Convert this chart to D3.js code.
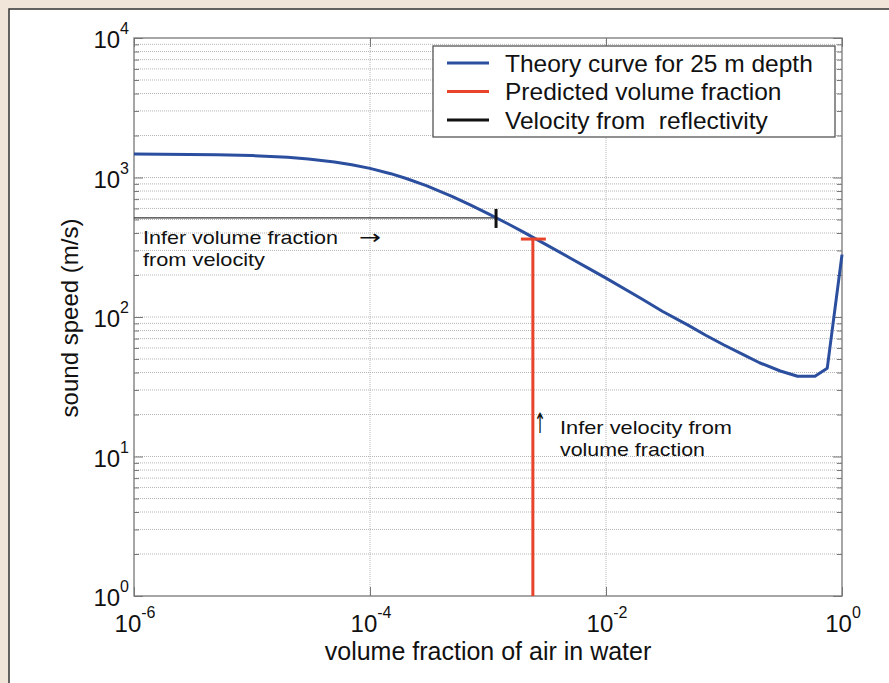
<!DOCTYPE html>
<html>
<head>
<meta charset="utf-8">
<script src="https://cdn.jsdelivr.net/npm/d3@7"></script>
<style>
  body { margin: 0; background: #f1e4d9; }
  svg { display: block; }
  .tick-label { font-family: "Liberation Sans", Arial, sans-serif; font-size: 24px; fill: #111; }
  .axis-label { font-family: "Liberation Sans", Arial, sans-serif; fill: #111; }
  .note { font-family: "Liberation Sans", Arial, sans-serif; font-size: 19px; fill: #111; }
  .arrow { font-family: "DejaVu Sans", sans-serif; fill: #111; }
  .legend text { font-family: "Liberation Sans", Arial, sans-serif; font-size: 24.5px; fill: #111; white-space: pre; }
</style>
</head>
<body>
<script>
// waarden
const volumeFraction = [1e-6, 5e-6, 1e-5, 2e-5, 3e-5, 5e-5, 7e-5, 1e-4, 1.5e-4, 2e-4, 3e-4, 5e-4, 7e-4, 1e-3, 1.5e-3, 2e-3, 3e-3, 5e-3, 7e-3,
	1e-2, 2e-2, 3e-2, 5e-2, 7e-2, 0.1, 0.15, 0.2, 0.3, 0.42, 0.59, 0.75, 1]
const soundSpeed = [1475, 1457, 1436, 1395, 1358, 1291, 1234, 1163, 1065, 988, 874, 730, 640, 551, 462, 406, 336, 264, 225,
	190, 135, 110, 87, 74, 63, 53, 47, 41, 37.6, 37.6, 43, 280]

const reflectivityVelocity = 513   // zwarte lijn
const reflectivityFraction = 0.00117
const predictedFraction = 0.0024   // rode lijn
const predictedVelocity = 362

const xTickValues = [1e-6, 1e-4, 1e-2, 1]
const xTickExponents = ['-6', '-4', '-2', '0']
const yTickValues = [1, 10, 100, 1000, 10000]
const yTickExponents = ['0', '1', '2', '3', '4']

const legendLabels = ['Theory curve for 25 m depth', 'Predicted volume fraction', 'Velocity from  reflectivity']
const legendColors = ['#2b4f9e', '#e8432b', '#111']

const width = 889
const height = 683
const plot = { left: 134, right: 842, top: 38, bottom: 596 }

const svg = d3.select('body').append('svg').attr('width', width).attr('height', height)

// wit paneel
svg.append('rect')
	.attr('x', 9).attr('y', 9)
	.attr('width', width).attr('height', height)
	.attr('fill', '#fff').attr('stroke', '#333').attr('stroke-width', 1.5)

const x = d3.scaleLog().domain([1e-6, 1]).range([plot.left, plot.right])
const y = d3.scaleLog().domain([1, 1e4]).range([plot.bottom, plot.top])

// kleine ticks tussen de decaden
const minorY = []
for (let e = 0; e < 4; e++) {
	for (let m = 2; m <= 9; m++) minorY.push(m * Math.pow(10, e))
}

const grid = svg.append('g')
grid.selectAll('.hgrid')
	.data(minorY.concat(yTickValues.slice(1, 4)))
	.join('line')
	.attr('x1', plot.left).attr('x2', plot.right)
	.attr('y1', d => y(d)).attr('y2', d => y(d))
	.attr('stroke', '#b5b5b5').attr('stroke-width', 1).attr('stroke-dasharray', '1,1')
grid.selectAll('.vgrid')
	.data(xTickValues.slice(1, 3))
	.join('line')
	.attr('x1', d => x(d)).attr('x2', d => x(d))
	.attr('y1', plot.top).attr('y2', plot.bottom)
	.attr('stroke', '#b5b5b5').attr('stroke-width', 1).attr('stroke-dasharray', '1,1')

// assen met ticks aan beide kanten
const axisColor = '#777'
svg.append('g').attr('transform', `translate(${plot.left},0)`)
	.call(d3.axisRight(y).tickValues(minorY).tickSize(5).tickFormat(''))
svg.append('g').attr('transform', `translate(${plot.right},0)`)
	.call(d3.axisLeft(y).tickValues(minorY).tickSize(5).tickFormat(''))
svg.append('g').attr('transform', `translate(${plot.left},0)`)
	.call(d3.axisRight(y).tickValues(yTickValues).tickSize(9).tickFormat(''))
svg.append('g').attr('transform', `translate(${plot.right},0)`)
	.call(d3.axisLeft(y).tickValues(yTickValues).tickSize(9).tickFormat(''))
svg.append('g').attr('transform', `translate(0,${plot.bottom})`)
	.call(d3.axisTop(x).tickValues(xTickValues).tickSize(9).tickFormat(''))
svg.append('g').attr('transform', `translate(0,${plot.top})`)
	.call(d3.axisBottom(x).tickValues(xTickValues).tickSize(9).tickFormat(''))
svg.selectAll('.domain').remove()
svg.selectAll('.tick line').attr('stroke', axisColor)

svg.append('rect')
	.attr('x', plot.left).attr('y', plot.top)
	.attr('width', plot.right - plot.left).attr('height', plot.bottom - plot.top)
	.attr('fill', 'none').attr('stroke', axisColor).attr('stroke-width', 1.3)

// tick labels 10^n
const yl = svg.selectAll('.ylab').data(yTickValues).join('text')
	.attr('class', 'tick-label')
	.attr('x', 129).attr('y', d => y(d) + 10)
	.attr('text-anchor', 'end')
yl.append('tspan').text('10')
yl.append('tspan').attr('dy', -14).attr('font-size', 16).text((d, i) => yTickExponents[i])

const xl = svg.selectAll('.xlab').data(xTickValues).join('text')
	.attr('class', 'tick-label')
	.attr('x', d => x(d) + 1).attr('y', 632)
	.attr('text-anchor', 'middle')
xl.append('tspan').text('10')
xl.append('tspan').attr('dy', -14).attr('font-size', 16).text((d, i) => xTickExponents[i])

svg.append('text').attr('class', 'axis-label')
	.attr('x', 488).attr('y', 660).attr('text-anchor', 'middle')
	.attr('font-size', 25)
	.text('volume fraction of air in water')
svg.append('text').attr('class', 'axis-label')
	.attr('transform', 'translate(78,318) rotate(-90)')
	.attr('text-anchor', 'middle').attr('font-size', 24)
	.text('sound speed (m/s)')

// zwarte lijn: snelheid uit reflectiviteit
svg.append('line')
	.attr('x1', x(1e-6)).attr('x2', x(reflectivityFraction))
	.attr('y1', y(reflectivityVelocity)).attr('y2', y(reflectivityVelocity))
	.attr('stroke', '#333').attr('stroke-width', 1.2)

// theoriecurve
const line = d3.line().x(d => x(d[0])).y(d => y(d[1]))
svg.append('path')
	.datum(volumeFraction.map((f, i) => [f, soundSpeed[i]]))
	.attr('d', line)
	.attr('fill', 'none').attr('stroke', legendColors[0]).attr('stroke-width', 3)
	.attr('stroke-linejoin', 'round')

svg.append('line')
	.attr('x1', x(reflectivityFraction)).attr('x2', x(reflectivityFraction))
	.attr('y1', y(reflectivityVelocity) - 9).attr('y2', y(reflectivityVelocity) + 10)
	.attr('stroke', '#111').attr('stroke-width', 3)

// rode lijn: voorspelde volumefractie
svg.append('line')
	.attr('x1', x(predictedFraction)).attr('x2', x(predictedFraction))
	.attr('y1', y(predictedVelocity)).attr('y2', y(1))
	.attr('stroke', legendColors[1]).attr('stroke-width', 3)
svg.append('line')
	.attr('x1', x(predictedFraction) - 12).attr('x2', x(predictedFraction) + 13)
	.attr('y1', y(predictedVelocity)).attr('y2', y(predictedVelocity))
	.attr('stroke', legendColors[1]).attr('stroke-width', 3)

// annotaties, smal gezet met textLength
function note(x0, y0, lines) {
	const t = svg.append('text').attr('class', 'note')
	lines.forEach((l, i) => {
		t.append('tspan').attr('x', x0).attr('y', y0 + i * 22)
			.attr('textLength', l[1]).attr('lengthAdjust', 'spacingAndGlyphs')
			.text(l[0])
	})
}
note(143, 244, [['Infer volume fraction', 195], ['from velocity', 122]])
note(560, 434, [['Infer velocity from', 172], ['volume fraction', 145]])
svg.append('text').attr('class', 'arrow').attr('x', 359).attr('y', 244)
	.attr('font-size', 20).attr('textLength', 22).attr('lengthAdjust', 'spacingAndGlyphs').text('→')
svg.append('text').attr('class', 'arrow').attr('x', 534).attr('y', 433)
	.attr('font-size', 28).attr('textLength', 12).attr('lengthAdjust', 'spacingAndGlyphs').text('↑')

// legenda
const legend = svg.append('g').attr('class', 'legend')
legend.append('rect')
	.attr('x', 433).attr('y', 46).attr('width', 402).attr('height', 91)
	.attr('fill', '#fff').attr('stroke', '#555').attr('stroke-width', 1.3)
const items = legend.selectAll('.item').data(legendLabels).join('g')
	.attr('transform', (d, i) => `translate(0,${63 + i * 28.5})`)
items.append('line')
	.attr('x1', 447).attr('x2', 489)
	.attr('stroke', (d, i) => legendColors[i]).attr('stroke-width', 3)
items.append('text').attr('x', 505).attr('y', 8.5).text(d => d)
</script>
</body>
</html>
